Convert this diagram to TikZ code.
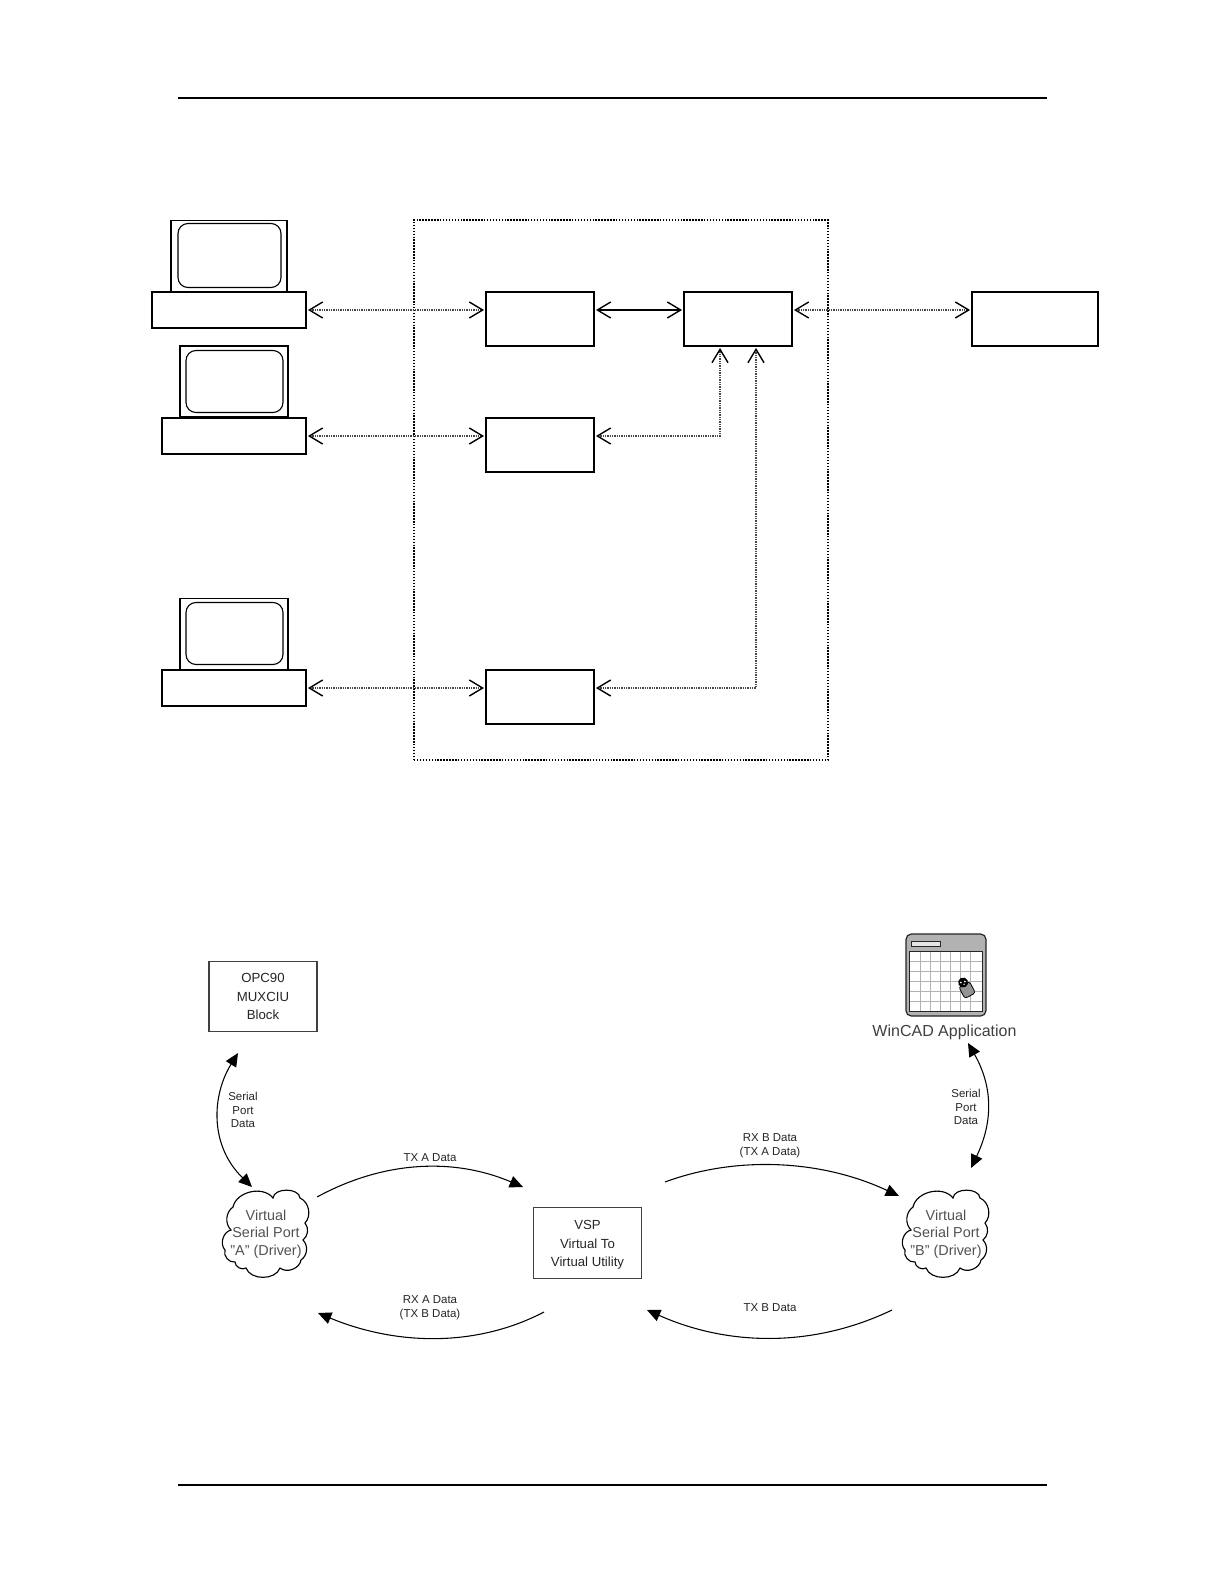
\documentclass[tikz,border=0pt]{standalone}
\usepackage{fontspec}
\setmainfont{Liberation Sans}
\usetikzlibrary{arrows.meta}
\definecolor{inkgray}{gray}{0.22}
\tikzset{
  rule/.style={line width=1.4pt,black},
  hw/.style={draw=black,line width=1.35pt,fill=white,inner sep=0pt,outer sep=0pt},
  screen/.style={draw=black,line width=.85pt,rounded corners=7.5pt,inner sep=0pt,outer sep=0pt},
  container/.style={draw=black,line width=1.1pt,dash pattern=on 1.1pt off 1.1pt,inner sep=0pt,outer sep=0pt,minimum width=310.5pt,minimum height=405pt},
  proc/.style={hw,minimum width=81pt,minimum height=40.5pt},
  barbs/.style={{Straight Barb[length=10pt,width=12pt,line width=1.05pt,color=black]}-{Straight Barb[length=10pt,width=12pt,line width=1.05pt,color=black]},shorten <=1.5pt,shorten >=1.5pt},
  dotlink/.style={barbs,draw=black!72,line width=1.25pt,dash pattern=on 1pt off .75pt},
  solidlink/.style={barbs,draw=black,line width=1.5pt},
  flow/.style={draw=black,line width=.8pt,-{Triangle[length=10pt,width=9pt]}},
  flowboth/.style={draw=black,line width=.8pt,{Triangle[length=10pt,width=9pt]}-{Triangle[length=10pt,width=9pt]}},
  soft/.style={draw=black!75,line width=.9pt,fill=white,inner sep=0pt,outer sep=0pt,minimum width=81pt,minimum height=53pt,text=black!85,align=center,font=\fontsize{9.9}{13.9}\selectfont},
  smalltxt/.style={text=black!85,align=center,inner sep=0pt,font=\fontsize{8.6}{10.4}\selectfont},
  cloudtxt/.style={text=black!68,align=center,inner sep=0pt,font=\fontsize{10.8}{13}\selectfont},
  vcloud/.pic={
    \draw[black,line width=.85pt,fill=white]
      (50,8) to[bend left=85] (77,8) to[bend left=55] (82,33) to[bend left=45] (80,50)
      to[bend left=50] (78,70) to[bend left=60] (57,78) to[bend left=70] (23,78)
      to[bend left=60] (12,72) to[bend left=60] (2,60) to[bend left=60] (8,40)
      to[bend left=50] (10,17) to[bend left=65] cycle;
  }
}
\begin{document}
\begin{tikzpicture}[x=.75pt,y=-.75pt]
\useasboundingbox (0,0) rectangle (1224,1584);
\fill[white] (0,0) rectangle (1224,1584);

% page rules
\coordinate (hl) at (178,98); \coordinate (hr) at (1047,98);
\coordinate (fl) at (178,1485); \coordinate (fr) at (1047,1485);
\draw[rule] (hl) -- (hr);
\draw[rule] (fl) -- (fr);

% upper diagram
\node[container] (frame) at (621,490) {};
\node[hw,minimum width=87pt,minimum height=53.25pt] (mon1) at (229,256) {};
\node[screen,minimum width=77.25pt,minimum height=48pt] (scr1) at (229.5,255.5) {};
\node[hw,minimum width=115.5pt,minimum height=27.25pt] (base1) at (229,310) {};
\node[hw,minimum width=81pt,minimum height=53.25pt] (mon2) at (234,381.5) {};
\node[screen,minimum width=72.75pt,minimum height=46.5pt] (scr2) at (234.5,381.5) {};
\node[hw,minimum width=108pt,minimum height=27pt] (base2) at (234,436) {};
\node[hw,minimum width=81pt,minimum height=53.25pt] (mon3) at (234,634) {};
\node[screen,minimum width=72.75pt,minimum height=46.5pt] (scr3) at (234.5,633.5) {};
\node[hw,minimum width=108pt,minimum height=27pt] (base3) at (234,688) {};
\node[proc] (box1) at (540,319) {};
\node[proc] (box2) at (540,445) {};
\node[proc] (box3) at (540,697) {};
\node[proc] (box4) at (738,319) {};
\node[proc,minimum width=94.5pt] (box5) at (1035,319) {};
\coordinate (t1) at (720,346);
\coordinate (t2) at (756,346);

\draw[dotlink] (base1.east) -- (base1.east -| box1.west);
\draw[dotlink] (base2.east) -- (base2.east -| box2.west);
\draw[dotlink] (base3.east) -- (base3.east -| box3.west);
\draw[solidlink] (base1.east -| box1.east) -- (base1.east -| box4.west);
\draw[dotlink] (base1.east -| box4.east) -- (base1.east -| box5.west);
\draw[dotlink] (base2.east -| box2.east) -| (t1);
\draw[dotlink] (base3.east -| box3.east) -| (t2);

% lower diagram
\node[soft] (opc) at (263,996.5) {OPC90\\MUXCIU\\Block};
\node[soft,text height=0pt,text depth=0pt,minimum height=53pt] (vsp) at (587.5,1243) {};
\node[text=black!85,align=center,inner sep=0pt,font=\fontsize{9.9}{13.9}\selectfont] (vsptxt) at (587.5,1245) {VSP\\Virtual To\\Virtual Utility};

\pic (cloudA) at (223,1190) {vcloud};
\pic (cloudB) at (903,1190) {vcloud};
\node[cloudtxt] (vspa) at (266,1234) {Virtual\\Serial Port\\"A" (Driver)};
\node[cloudtxt] (vspb) at (946,1234) {Virtual\\Serial Port\\"B" (Driver)};

% WinCAD icon
\draw[black!85,line width=.9pt,fill=black!30,rounded corners=4pt] (906,934) rectangle (986,1016);
\draw[black!85,line width=.6pt,fill=black!10] (911,941) rectangle (940,946);
\fill[white] (909,951) rectangle (982,1011);
\foreach \gx in {920,930,940,950,960,970}
  \draw[black!30,line width=.7pt] (\gx,951) -- (\gx,1011);
\foreach \gy in {961,971,981,991,1001}
  \draw[black!30,line width=.7pt] (909,\gy) -- (982,\gy);
\draw[black!85,line width=.6pt] (909,951) rectangle (982,1011);
\begin{scope}[shift={(965,986)},rotate=28]
  \draw[black,line width=.6pt,fill=black!42,rounded corners=2pt] (-6,-2) rectangle (6,11);
  \fill[black] (0,-4) circle[radius=5];
  \fill[white] (-2,-5) circle[radius=1] (2,-4) circle[radius=1] (0,-2) circle[radius=.8];
\end{scope}
\node[text=black!75,inner sep=0pt,font=\fontsize{12}{14}\selectfont] (wincad) at (944.5,1032) {WinCAD Application};

\coordinate (a1) at (238,1053); \coordinate (a2) at (252,1187);
\coordinate (b1) at (968,1043); \coordinate (b2) at (971,1168);
\coordinate (c1) at (317,1197); \coordinate (c2) at (523,1187);
\coordinate (d1) at (665,1182); \coordinate (d2) at (899,1196);
\coordinate (e1) at (544,1312); \coordinate (e2) at (318,1313);
\coordinate (f1) at (892,1310); \coordinate (f2) at (647,1310);

\draw[flowboth] (a1) .. controls (212,1095) and (209,1145) .. (a2);
\draw[flowboth] (b1) .. controls (992,1085) and (994,1120) .. (b2);
\draw[flow] (c1) .. controls (385,1160) and (455,1158) .. (c2);
\draw[flow] (d1) .. controls (735,1156) and (820,1159) .. (d2);
\draw[flow] (e1) .. controls (475,1348) and (395,1345) .. (e2);
\draw[flow] (f1) .. controls (815,1347) and (730,1347) .. (f2);

\node[smalltxt] (lab1) at (243,1110) {Serial\\Port\\Data};
\node[smalltxt] (lab2) at (966,1107) {Serial\\Port\\Data};
\node[smalltxt] (lab3) at (430,1158) {TX A Data};
\node[smalltxt] (lab4) at (770,1146) {RX B Data\\(TX A Data)};
\node[smalltxt] (lab5) at (430,1308) {RX A Data\\(TX B Data)};
\node[smalltxt] (lab6) at (770,1308) {TX B Data};
\end{tikzpicture}
\end{document}
